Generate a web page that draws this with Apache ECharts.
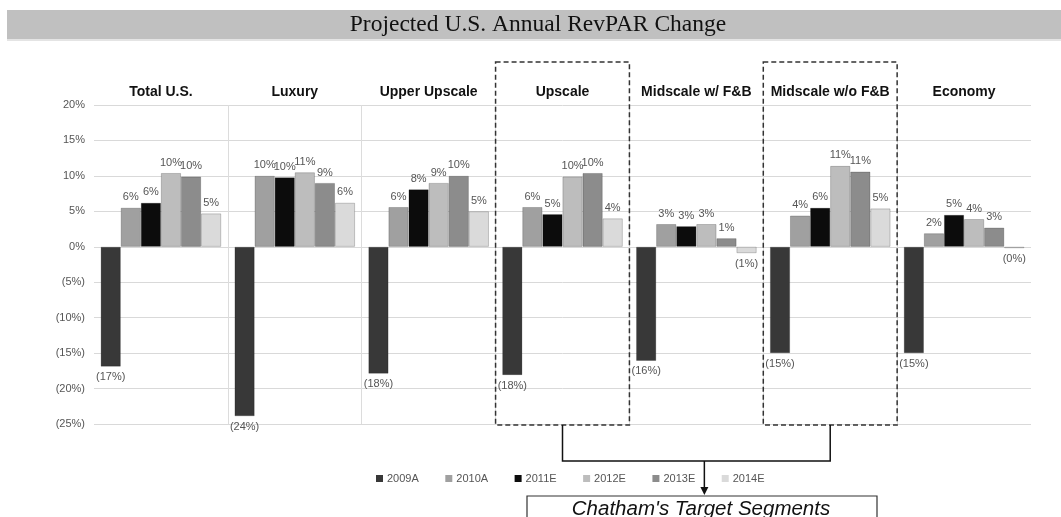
<!DOCTYPE html>
<html><head><meta charset="utf-8">
<script src="https://cdn.jsdelivr.net/npm/echarts@6/dist/echarts.min.js"></script>
<style>html,body{margin:0;padding:0;background:#fff}#c{width:1061px;height:517px}</style>
</head><body><div id="c"></div><script>
const categories = ['Total U.S.','Luxury','Upper Upscale','Upscale','Midscale w/ F&B','Midscale w/o F&B','Economy'];
const seriesNames = ['2009A','2010A','2011E','2012E','2013E','2014E'];
const v2009A = [-16.9,-23.9,-17.9,-18.1,-16.1,-15.0,-15.0];
const v2010A = [5.5,10.0,5.6,5.6,3.2,4.4,1.9];
const v2011E = [6.2,9.8,8.1,4.6,2.9,5.5,4.5];
const v2012E = [10.4,10.5,9.0,9.9,3.2,11.4,3.9];
const v2013E = [9.9,9.0,10.0,10.4,1.2,10.6,2.7];
const v2014E = [4.7,6.2,5.0,4.0,-0.9,5.4,-0.2];
const yMin = -25, yMax = 20, yStep = 5;
const targetSegments = ['Upscale','Midscale w/o F&B'];
const titleText = 'Projected U.S. Annual RevPAR Change';
const calloutText = "Chatham's Target Segments";

const seriesValues = [v2009A, v2010A, v2011E, v2012E, v2013E, v2014E];
const colors = ['#383838','#a0a0a0','#0c0c0c','#bdbdbd','#8c8c8c','#dadada'];
const FONT = 'Liberation Sans, Arial, sans-serif';

function pct(v){ return v < 0 ? '(' + Math.round(-v) + '%)' : Math.round(v) + '%'; }

const chart = echarts.init(document.getElementById('c'), null, {renderer:'canvas'});
const option = {
  animation: false,
  color: colors,
  textStyle: {fontFamily: FONT},
  grid: {left: 94, right: 30, top: 105, bottom: 93, containLabel: false},
  legend: {
    data: seriesNames, left: 376, top: 473, padding: 0, icon: 'rect', itemWidth: 7, itemHeight: 7,
    itemGap: 26.5, itemStyle: {borderWidth: 0},
    textStyle: {fontSize: 11, color: '#555', fontFamily: FONT, padding: [0, 0, 0, -1]}
  },
  xAxis: {
    type: 'category', position: 'top', data: categories,
    axisLine: {show: false}, axisTick: {show: false},
    axisLabel: {interval: 0, fontWeight: 'bold', fontSize: 14, color: '#111', margin: 6, fontFamily: FONT},
    splitLine: {show: true, interval: 0, showMinLine: false, showMaxLine: false, lineStyle: {color: '#dcdcdc', width: 1}}
  },
  yAxis: {
    type: 'value', min: yMin, max: yMax, interval: yStep,
    axisLine: {show: false}, axisTick: {show: false},
    axisLabel: {formatter: pct, fontSize: 11, color: '#555', margin: 9, fontFamily: FONT},
    splitLine: {lineStyle: {color: '#d9d9d9', width: 1}}
  },
  series: seriesNames.map((n, i) => ({
    name: n, type: 'bar', barGap: '0%', barCategoryGap: '10%',
    itemStyle: {color: colors[i], borderColor: 'rgba(0,0,0,0.25)', borderWidth: 0.8},
    label: {show: true, position: 'top', distance: 5, fontSize: 11, color: '#555', formatter: p => pct(p.value), fontFamily: FONT},
    data: seriesValues[i].map(v => v < 0 ? {value: v, label: {position: 'bottom', distance: 5}} : v)
  }))
};
chart.setOption(option);

// annotations
const c0 = chart.convertToPixel({xAxisIndex: 0}, categories[0]);
const c1 = chart.convertToPixel({xAxisIndex: 0}, categories[1]);
const band = c1 - c0;
const boxTop = 62, boxBottom = 425, connY = 461;
const g = [];
g.push({type:'rect', shape:{x:7, y:10, width:1054, height:29}, style:{fill:'#c0c0c0'}, z: 0});
g.push({type:'rect', shape:{x:7, y:39, width:1054, height:2}, style:{fill:'#e4e4e4'}, z: 0});
g.push({type:'text', x: 538, y: 25, style:{text: titleText, fill:'#111', font:'23.5px "Liberation Serif", "Times New Roman", serif', textAlign:'center', textVerticalAlign:'middle'}});
const centers = targetSegments.map(s => chart.convertToPixel({xAxisIndex: 0}, s));
centers.forEach(cx => {
  g.push({type:'rect', shape:{x: cx - band/2, y: boxTop, width: band, height: boxBottom - boxTop},
    style:{fill:'none', stroke:'#333', lineWidth:1.5, lineDash:[5,3]}, z: 10});
});
const xl = centers[0], xr = centers[1];
g.push({type:'polyline', shape:{points:[[xl,boxBottom],[xl,connY],[xr,connY],[xr,boxBottom]]}, style:{stroke:'#111', lineWidth:1.5, fill:'none'}, z: 10});
const xa = (xl + xr) / 2 + 8;
g.push({type:'line', shape:{x1: xa, y1: connY, x2: xa, y2: 489}, style:{stroke:'#111', lineWidth:1.5}, z: 10});
g.push({type:'polygon', shape:{points:[[xa-4,487],[xa+4,487],[xa,495]]}, style:{fill:'#111'}, z: 10});
g.push({type:'rect', shape:{x: 527, y: 496, width: 350, height: 40}, style:{fill:'#fff', stroke:'#333', lineWidth:1.2}, z: 10});
g.push({type:'text', x: 701, y: 509, style:{text: calloutText, fill:'#111', font:'italic 20.5px "Liberation Sans", Arial, sans-serif', textAlign:'center', textVerticalAlign:'middle'}, z: 11});
chart.setOption({graphic: g});
</script></body></html>
